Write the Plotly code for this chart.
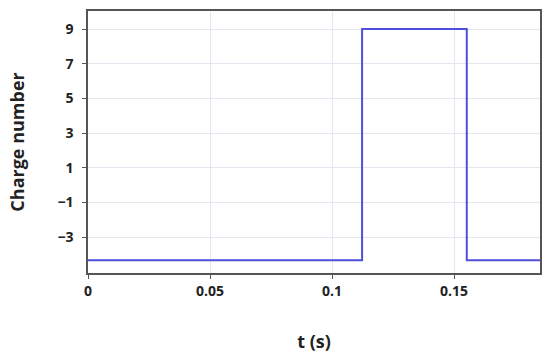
import plotly.graph_objects as go

# step signal: charge number over time
t_vals = [0, 0.1123, 0.1552, 0.1852]
charge_vals = [-4.33, 9, -4.33, -4.33]

x_ticks = [0, 0.05, 0.1, 0.15]
x_labels = ["0", "0.05", "0.1", "0.15"]
y_ticks = [-3, -1, 1, 3, 5, 7, 9]
y_labels = ["\u22123", "\u22121", "1", "3", "5", "7", "9"]

FONT = "Open Sans"

fig = go.Figure()
fig.add_trace(
    go.Scatter(
        x=t_vals,
        y=charge_vals,
        mode="lines",
        line=dict(color="#4f4fdc", width=2, shape="hv"),
        hoverinfo="skip",
    )
)

axis_common = dict(
    showline=True,
    linecolor="#555555",
    linewidth=1.5,
    mirror=True,
    ticks="outside",
    ticklen=4,
    tickcolor="#555555",
    showgrid=True,
    gridcolor="#e6e6f0",
    gridwidth=1,
    zeroline=False,
    automargin=False,
    tickfont=dict(family=FONT, size=14, color="#222222", weight="bold"),
)

fig.update_layout(
    width=550,
    height=362,
    plot_bgcolor="white",
    paper_bgcolor="white",
    showlegend=False,
    margin=dict(l=88, r=10, t=11, b=89),
    xaxis=dict(
        axis_common,
        range=[0, 0.1852],
        tickvals=x_ticks,
        ticktext=x_labels,
        title=dict(
            text="t (s)",
            font=dict(family=FONT, size=18, color="#222222", weight="bold"),
            standoff=37,
        ),
    ),
    yaxis=dict(
        axis_common,
        range=[-5.07, 10.04],
        tickvals=y_ticks,
        ticktext=y_labels,
        ticklabelstandoff=6,
        title=dict(
            text="Charge number",
            font=dict(family=FONT, size=18, color="#222222", weight="bold"),
            standoff=28,
        ),
    ),
)

# drop the default body margin so the figure sits at the page origin
fig.write_html(
    "out.html",
    config={"displayModeBar": False},
    post_script="document.body.style.margin='0';document.body.style.overflow='hidden';",
)
